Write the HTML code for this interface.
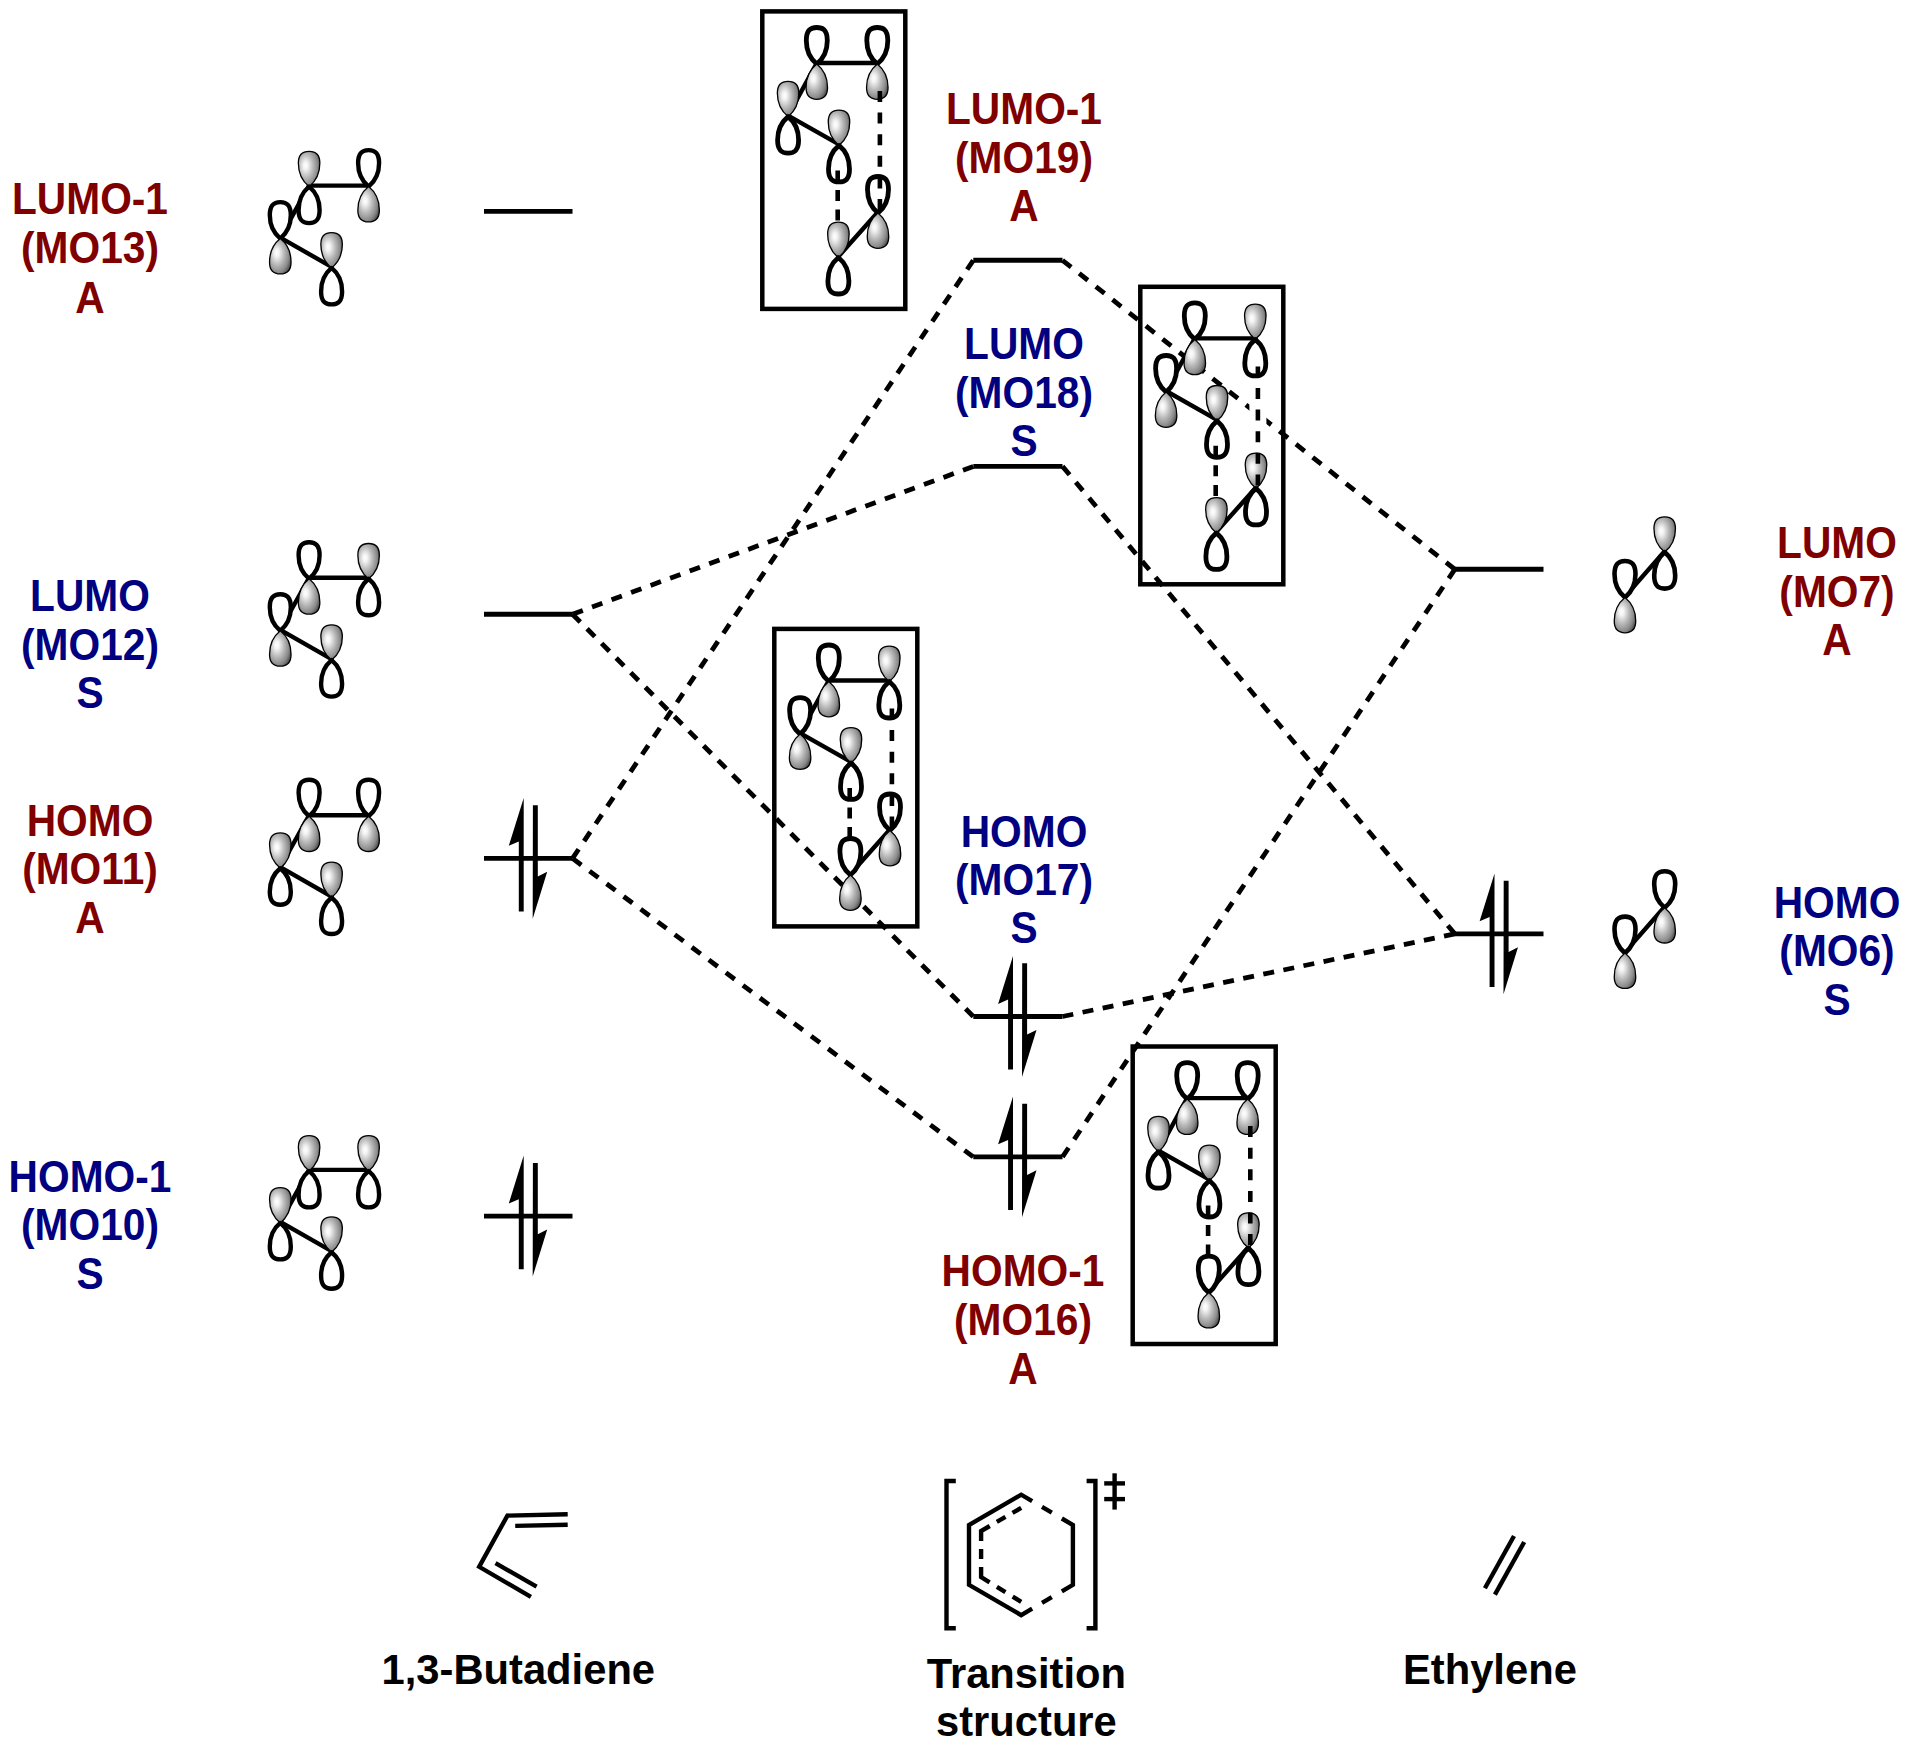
<!DOCTYPE html><html><head><meta charset="utf-8"><style>html,body{margin:0;padding:0;background:#fff;}svg{display:block;}text{font-family:"Liberation Sans",sans-serif;font-weight:bold;}</style></head><body>
<svg width="1911" height="1756" viewBox="0 0 1911 1756">
<defs><radialGradient id="gg" cx="0.38" cy="0.44" r="0.72" fx="0.33" fy="0.4"><stop offset="0" stop-color="#ffffff"/><stop offset="0.15" stop-color="#f3f3f3"/><stop offset="0.45" stop-color="#bababa"/><stop offset="0.75" stop-color="#888888"/><stop offset="1" stop-color="#383838"/></radialGradient></defs>
<rect width="1911" height="1756" fill="#fff"/>
<line x1="572.5" y1="614.2" x2="973.3" y2="466.4" stroke="#000" stroke-width="4.8" stroke-dasharray="11.00 9.81"/>
<line x1="572.5" y1="614.2" x2="973.3" y2="1016.5" stroke="#000" stroke-width="4.8" stroke-dasharray="11.00 9.63"/>
<line x1="572.5" y1="858.4" x2="973.3" y2="260.3" stroke="#000" stroke-width="4.8" stroke-dasharray="11.00 9.85"/>
<line x1="572.5" y1="858.4" x2="973.3" y2="1156.9" stroke="#000" stroke-width="4.8" stroke-dasharray="11.00 10.25"/>
<line x1="1062.5" y1="260.3" x2="1454.8" y2="569.3" stroke="#000" stroke-width="4.8" stroke-dasharray="11.00 10.23"/>
<line x1="1062.5" y1="1156.9" x2="1454.8" y2="569.3" stroke="#000" stroke-width="4.8" stroke-dasharray="11.00 10.08"/>
<line x1="1062.5" y1="466.4" x2="1454.8" y2="933.9" stroke="#000" stroke-width="4.8" stroke-dasharray="11.00 9.67"/>
<line x1="1062.5" y1="1016.5" x2="1454.8" y2="933.9" stroke="#000" stroke-width="4.8" stroke-dasharray="11.00 9.52"/>
<line x1="484" y1="211.4" x2="572.5" y2="211.4" stroke="#000" stroke-width="4.9" stroke-linecap="butt"/>
<line x1="484" y1="614.2" x2="572.5" y2="614.2" stroke="#000" stroke-width="4.9" stroke-linecap="butt"/>
<line x1="484" y1="858.4" x2="572.5" y2="858.4" stroke="#000" stroke-width="4.9" stroke-linecap="butt"/>
<line x1="484" y1="1216.1" x2="572.5" y2="1216.1" stroke="#000" stroke-width="4.9" stroke-linecap="butt"/>
<line x1="973.3" y1="260.3" x2="1062.5" y2="260.3" stroke="#000" stroke-width="4.9" stroke-linecap="butt"/>
<line x1="973.3" y1="466.4" x2="1062.5" y2="466.4" stroke="#000" stroke-width="4.9" stroke-linecap="butt"/>
<line x1="973.3" y1="1016.5" x2="1062.5" y2="1016.5" stroke="#000" stroke-width="4.9" stroke-linecap="butt"/>
<line x1="973.3" y1="1156.9" x2="1062.5" y2="1156.9" stroke="#000" stroke-width="4.9" stroke-linecap="butt"/>
<line x1="1454.8" y1="569.3" x2="1543.5" y2="569.3" stroke="#000" stroke-width="4.9" stroke-linecap="butt"/>
<line x1="1454.8" y1="933.9" x2="1543.5" y2="933.9" stroke="#000" stroke-width="4.9" stroke-linecap="butt"/>
<polygon points="518.8,911.5 518.8,841.5 508.8,845.8 523.7,797.9 523.7,911.5" fill="#000"/>
<polygon points="532.9,805.2 537.8,805.2 537.8,876.5 547.2,871.8 532.7,918.8" fill="#000"/>
<polygon points="518.8,1269.2 518.8,1199.2 508.8,1203.5 523.7,1155.6 523.7,1269.2" fill="#000"/>
<polygon points="532.9,1162.9 537.8,1162.9 537.8,1234.2 547.2,1229.5 532.7,1276.5" fill="#000"/>
<polygon points="1008.1,1069.6 1008.1,999.6 998.1,1003.9 1013,956 1013,1069.6" fill="#000"/>
<polygon points="1022.2,963.3 1027.1,963.3 1027.1,1034.6 1036.5,1029.9 1022,1076.9" fill="#000"/>
<polygon points="1008.1,1210 1008.1,1140 998.1,1144.3 1013,1096.4 1013,1210" fill="#000"/>
<polygon points="1022.2,1103.7 1027.1,1103.7 1027.1,1175 1036.5,1170.3 1022,1217.3" fill="#000"/>
<polygon points="1489.6,987 1489.6,917 1479.6,921.3 1494.5,873.4 1494.5,987" fill="#000"/>
<polygon points="1503.7,880.7 1508.6,880.7 1508.6,952 1518,947.3 1503.5,994.3" fill="#000"/>
<line x1="309.1" y1="185.6" x2="368.6" y2="185.6" stroke="#000" stroke-width="4.4" stroke-linecap="round"/>
<line x1="309.1" y1="185.6" x2="280.3" y2="237.6" stroke="#000" stroke-width="4.4" stroke-linecap="round"/>
<line x1="280.3" y1="237.6" x2="331.6" y2="266.9" stroke="#000" stroke-width="4.4" stroke-linecap="round"/>
<path d="M309.10,186.60 C316.68,180.55 319.85,171.26 319.85,163.00 C319.85,152.94 314.48,151.30 309.10,151.30 C303.73,151.30 298.35,152.94 298.35,163.00 C298.35,171.26 301.52,180.55 309.10,186.60 Z" fill="url(#gg)" stroke="#000" stroke-width="1.3"/>
<path d="M309.10,186.60 C316.50,192.63 319.60,201.88 319.60,210.10 C319.60,221.54 314.35,223.10 309.10,223.10 C303.85,223.10 298.60,221.54 298.60,210.10 C298.60,201.88 301.70,192.63 309.10,186.60 Z" fill="#fff" stroke="#000" stroke-width="4.4" stroke-linejoin="round"/>
<path d="M368.60,186.60 C376.00,180.57 379.10,171.32 379.10,163.10 C379.10,151.66 373.85,150.10 368.60,150.10 C363.35,150.10 358.10,151.66 358.10,163.10 C358.10,171.32 361.20,180.57 368.60,186.60 Z" fill="#fff" stroke="#000" stroke-width="4.4" stroke-linejoin="round"/>
<path d="M368.60,186.60 C376.18,192.65 379.35,201.94 379.35,210.20 C379.35,220.26 373.98,221.90 368.60,221.90 C363.23,221.90 357.85,220.26 357.85,210.20 C357.85,201.94 361.02,192.65 368.60,186.60 Z" fill="url(#gg)" stroke="#000" stroke-width="1.3"/>
<path d="M280.30,238.60 C287.70,232.57 290.80,223.32 290.80,215.10 C290.80,203.66 285.55,202.10 280.30,202.10 C275.05,202.10 269.80,203.66 269.80,215.10 C269.80,223.32 272.90,232.57 280.30,238.60 Z" fill="#fff" stroke="#000" stroke-width="4.4" stroke-linejoin="round"/>
<path d="M280.30,238.60 C287.88,244.65 291.05,253.94 291.05,262.20 C291.05,272.26 285.68,273.90 280.30,273.90 C274.93,273.90 269.55,272.26 269.55,262.20 C269.55,253.94 272.72,244.65 280.30,238.60 Z" fill="url(#gg)" stroke="#000" stroke-width="1.3"/>
<path d="M331.60,267.90 C339.18,261.85 342.35,252.56 342.35,244.30 C342.35,234.24 336.98,232.60 331.60,232.60 C326.23,232.60 320.85,234.24 320.85,244.30 C320.85,252.56 324.02,261.85 331.60,267.90 Z" fill="url(#gg)" stroke="#000" stroke-width="1.3"/>
<path d="M331.60,267.90 C339.00,273.93 342.10,283.17 342.10,291.40 C342.10,302.84 336.85,304.40 331.60,304.40 C326.35,304.40 321.10,302.84 321.10,291.40 C321.10,283.17 324.20,273.93 331.60,267.90 Z" fill="#fff" stroke="#000" stroke-width="4.4" stroke-linejoin="round"/>
<line x1="309.1" y1="577.8" x2="368.6" y2="577.8" stroke="#000" stroke-width="4.4" stroke-linecap="round"/>
<line x1="309.1" y1="577.8" x2="280.3" y2="629.8" stroke="#000" stroke-width="4.4" stroke-linecap="round"/>
<line x1="280.3" y1="629.8" x2="331.6" y2="659.1" stroke="#000" stroke-width="4.4" stroke-linecap="round"/>
<path d="M309.10,578.80 C316.50,572.77 319.60,563.52 319.60,555.30 C319.60,543.86 314.35,542.30 309.10,542.30 C303.85,542.30 298.60,543.86 298.60,555.30 C298.60,563.52 301.70,572.77 309.10,578.80 Z" fill="#fff" stroke="#000" stroke-width="4.4" stroke-linejoin="round"/>
<path d="M309.10,578.80 C316.68,584.85 319.85,594.14 319.85,602.40 C319.85,612.46 314.48,614.10 309.10,614.10 C303.73,614.10 298.35,612.46 298.35,602.40 C298.35,594.14 301.52,584.85 309.10,578.80 Z" fill="url(#gg)" stroke="#000" stroke-width="1.3"/>
<path d="M368.60,578.80 C376.18,572.75 379.35,563.46 379.35,555.20 C379.35,545.14 373.98,543.50 368.60,543.50 C363.23,543.50 357.85,545.14 357.85,555.20 C357.85,563.46 361.02,572.75 368.60,578.80 Z" fill="url(#gg)" stroke="#000" stroke-width="1.3"/>
<path d="M368.60,578.80 C376.00,584.83 379.10,594.07 379.10,602.30 C379.10,613.74 373.85,615.30 368.60,615.30 C363.35,615.30 358.10,613.74 358.10,602.30 C358.10,594.07 361.20,584.83 368.60,578.80 Z" fill="#fff" stroke="#000" stroke-width="4.4" stroke-linejoin="round"/>
<path d="M280.30,630.80 C287.70,624.77 290.80,615.52 290.80,607.30 C290.80,595.86 285.55,594.30 280.30,594.30 C275.05,594.30 269.80,595.86 269.80,607.30 C269.80,615.52 272.90,624.77 280.30,630.80 Z" fill="#fff" stroke="#000" stroke-width="4.4" stroke-linejoin="round"/>
<path d="M280.30,630.80 C287.88,636.85 291.05,646.14 291.05,654.40 C291.05,664.46 285.68,666.10 280.30,666.10 C274.93,666.10 269.55,664.46 269.55,654.40 C269.55,646.14 272.72,636.85 280.30,630.80 Z" fill="url(#gg)" stroke="#000" stroke-width="1.3"/>
<path d="M331.60,660.10 C339.18,654.05 342.35,644.76 342.35,636.50 C342.35,626.44 336.98,624.80 331.60,624.80 C326.23,624.80 320.85,626.44 320.85,636.50 C320.85,644.76 324.02,654.05 331.60,660.10 Z" fill="url(#gg)" stroke="#000" stroke-width="1.3"/>
<path d="M331.60,660.10 C339.00,666.13 342.10,675.37 342.10,683.60 C342.10,695.04 336.85,696.60 331.60,696.60 C326.35,696.60 321.10,695.04 321.10,683.60 C321.10,675.37 324.20,666.13 331.60,660.10 Z" fill="#fff" stroke="#000" stroke-width="4.4" stroke-linejoin="round"/>
<line x1="309.1" y1="815.2" x2="368.6" y2="815.2" stroke="#000" stroke-width="4.4" stroke-linecap="round"/>
<line x1="309.1" y1="815.2" x2="280.3" y2="867.2" stroke="#000" stroke-width="4.4" stroke-linecap="round"/>
<line x1="280.3" y1="867.2" x2="331.6" y2="896.5" stroke="#000" stroke-width="4.4" stroke-linecap="round"/>
<path d="M309.10,816.20 C316.50,810.17 319.60,800.93 319.60,792.70 C319.60,781.26 314.35,779.70 309.10,779.70 C303.85,779.70 298.60,781.26 298.60,792.70 C298.60,800.93 301.70,810.17 309.10,816.20 Z" fill="#fff" stroke="#000" stroke-width="4.4" stroke-linejoin="round"/>
<path d="M309.10,816.20 C316.68,822.25 319.85,831.54 319.85,839.80 C319.85,849.86 314.48,851.50 309.10,851.50 C303.73,851.50 298.35,849.86 298.35,839.80 C298.35,831.54 301.52,822.25 309.10,816.20 Z" fill="url(#gg)" stroke="#000" stroke-width="1.3"/>
<path d="M368.60,816.20 C376.00,810.17 379.10,800.93 379.10,792.70 C379.10,781.26 373.85,779.70 368.60,779.70 C363.35,779.70 358.10,781.26 358.10,792.70 C358.10,800.93 361.20,810.17 368.60,816.20 Z" fill="#fff" stroke="#000" stroke-width="4.4" stroke-linejoin="round"/>
<path d="M368.60,816.20 C376.18,822.25 379.35,831.54 379.35,839.80 C379.35,849.86 373.98,851.50 368.60,851.50 C363.23,851.50 357.85,849.86 357.85,839.80 C357.85,831.54 361.02,822.25 368.60,816.20 Z" fill="url(#gg)" stroke="#000" stroke-width="1.3"/>
<path d="M280.30,868.20 C287.88,862.15 291.05,852.86 291.05,844.60 C291.05,834.54 285.68,832.90 280.30,832.90 C274.93,832.90 269.55,834.54 269.55,844.60 C269.55,852.86 272.72,862.15 280.30,868.20 Z" fill="url(#gg)" stroke="#000" stroke-width="1.3"/>
<path d="M280.30,868.20 C287.70,874.23 290.80,883.48 290.80,891.70 C290.80,903.14 285.55,904.70 280.30,904.70 C275.05,904.70 269.80,903.14 269.80,891.70 C269.80,883.48 272.90,874.23 280.30,868.20 Z" fill="#fff" stroke="#000" stroke-width="4.4" stroke-linejoin="round"/>
<path d="M331.60,897.50 C339.18,891.45 342.35,882.16 342.35,873.90 C342.35,863.84 336.98,862.20 331.60,862.20 C326.23,862.20 320.85,863.84 320.85,873.90 C320.85,882.16 324.02,891.45 331.60,897.50 Z" fill="url(#gg)" stroke="#000" stroke-width="1.3"/>
<path d="M331.60,897.50 C339.00,903.53 342.10,912.77 342.10,921.00 C342.10,932.44 336.85,934.00 331.60,934.00 C326.35,934.00 321.10,932.44 321.10,921.00 C321.10,912.77 324.20,903.53 331.60,897.50 Z" fill="#fff" stroke="#000" stroke-width="4.4" stroke-linejoin="round"/>
<line x1="309.1" y1="1169.9" x2="368.6" y2="1169.9" stroke="#000" stroke-width="4.4" stroke-linecap="round"/>
<line x1="309.1" y1="1169.9" x2="280.3" y2="1221.9" stroke="#000" stroke-width="4.4" stroke-linecap="round"/>
<line x1="280.3" y1="1221.9" x2="331.6" y2="1251.2" stroke="#000" stroke-width="4.4" stroke-linecap="round"/>
<path d="M309.10,1170.90 C316.68,1164.85 319.85,1155.56 319.85,1147.30 C319.85,1137.24 314.48,1135.60 309.10,1135.60 C303.73,1135.60 298.35,1137.24 298.35,1147.30 C298.35,1155.56 301.52,1164.85 309.10,1170.90 Z" fill="url(#gg)" stroke="#000" stroke-width="1.3"/>
<path d="M309.10,1170.90 C316.50,1176.93 319.60,1186.18 319.60,1194.40 C319.60,1205.84 314.35,1207.40 309.10,1207.40 C303.85,1207.40 298.60,1205.84 298.60,1194.40 C298.60,1186.18 301.70,1176.93 309.10,1170.90 Z" fill="#fff" stroke="#000" stroke-width="4.4" stroke-linejoin="round"/>
<path d="M368.60,1170.90 C376.18,1164.85 379.35,1155.56 379.35,1147.30 C379.35,1137.24 373.98,1135.60 368.60,1135.60 C363.23,1135.60 357.85,1137.24 357.85,1147.30 C357.85,1155.56 361.02,1164.85 368.60,1170.90 Z" fill="url(#gg)" stroke="#000" stroke-width="1.3"/>
<path d="M368.60,1170.90 C376.00,1176.93 379.10,1186.18 379.10,1194.40 C379.10,1205.84 373.85,1207.40 368.60,1207.40 C363.35,1207.40 358.10,1205.84 358.10,1194.40 C358.10,1186.18 361.20,1176.93 368.60,1170.90 Z" fill="#fff" stroke="#000" stroke-width="4.4" stroke-linejoin="round"/>
<path d="M280.30,1222.90 C287.88,1216.85 291.05,1207.56 291.05,1199.30 C291.05,1189.24 285.68,1187.60 280.30,1187.60 C274.93,1187.60 269.55,1189.24 269.55,1199.30 C269.55,1207.56 272.72,1216.85 280.30,1222.90 Z" fill="url(#gg)" stroke="#000" stroke-width="1.3"/>
<path d="M280.30,1222.90 C287.70,1228.93 290.80,1238.18 290.80,1246.40 C290.80,1257.84 285.55,1259.40 280.30,1259.40 C275.05,1259.40 269.80,1257.84 269.80,1246.40 C269.80,1238.18 272.90,1228.93 280.30,1222.90 Z" fill="#fff" stroke="#000" stroke-width="4.4" stroke-linejoin="round"/>
<path d="M331.60,1252.20 C339.18,1246.15 342.35,1236.86 342.35,1228.60 C342.35,1218.54 336.98,1216.90 331.60,1216.90 C326.23,1216.90 320.85,1218.54 320.85,1228.60 C320.85,1236.86 324.02,1246.15 331.60,1252.20 Z" fill="url(#gg)" stroke="#000" stroke-width="1.3"/>
<path d="M331.60,1252.20 C339.00,1258.23 342.10,1267.48 342.10,1275.70 C342.10,1287.14 336.85,1288.70 331.60,1288.70 C326.35,1288.70 321.10,1287.14 321.10,1275.70 C321.10,1267.48 324.20,1258.23 331.60,1252.20 Z" fill="#fff" stroke="#000" stroke-width="4.4" stroke-linejoin="round"/>
<line x1="1664.7" y1="551.1" x2="1625" y2="596.5" stroke="#000" stroke-width="4.4" stroke-linecap="round"/>
<path d="M1664.70,552.10 C1672.28,546.05 1675.45,536.76 1675.45,528.50 C1675.45,518.44 1670.08,516.80 1664.70,516.80 C1659.33,516.80 1653.95,518.44 1653.95,528.50 C1653.95,536.76 1657.12,546.05 1664.70,552.10 Z" fill="url(#gg)" stroke="#000" stroke-width="1.3"/>
<path d="M1664.70,552.10 C1672.10,558.13 1675.20,567.38 1675.20,575.60 C1675.20,587.04 1669.95,588.60 1664.70,588.60 C1659.45,588.60 1654.20,587.04 1654.20,575.60 C1654.20,567.38 1657.30,558.13 1664.70,552.10 Z" fill="#fff" stroke="#000" stroke-width="4.6" stroke-linejoin="round"/>
<path d="M1625.00,597.50 C1632.40,591.47 1635.50,582.23 1635.50,574.00 C1635.50,562.56 1630.25,561.00 1625.00,561.00 C1619.75,561.00 1614.50,562.56 1614.50,574.00 C1614.50,582.23 1617.60,591.47 1625.00,597.50 Z" fill="#fff" stroke="#000" stroke-width="4.6" stroke-linejoin="round"/>
<path d="M1625.00,597.50 C1632.58,603.55 1635.75,612.84 1635.75,621.10 C1635.75,631.16 1630.38,632.80 1625.00,632.80 C1619.62,632.80 1614.25,631.16 1614.25,621.10 C1614.25,612.84 1617.42,603.55 1625.00,597.50 Z" fill="url(#gg)" stroke="#000" stroke-width="1.3"/>
<line x1="1664.7" y1="906.7" x2="1625" y2="952.1" stroke="#000" stroke-width="4.4" stroke-linecap="round"/>
<path d="M1664.70,907.70 C1672.10,901.67 1675.20,892.43 1675.20,884.20 C1675.20,872.76 1669.95,871.20 1664.70,871.20 C1659.45,871.20 1654.20,872.76 1654.20,884.20 C1654.20,892.43 1657.30,901.67 1664.70,907.70 Z" fill="#fff" stroke="#000" stroke-width="4.6" stroke-linejoin="round"/>
<path d="M1664.70,907.70 C1672.28,913.75 1675.45,923.04 1675.45,931.30 C1675.45,941.36 1670.08,943.00 1664.70,943.00 C1659.33,943.00 1653.95,941.36 1653.95,931.30 C1653.95,923.04 1657.12,913.75 1664.70,907.70 Z" fill="url(#gg)" stroke="#000" stroke-width="1.3"/>
<path d="M1625.00,953.10 C1632.40,947.07 1635.50,937.83 1635.50,929.60 C1635.50,918.16 1630.25,916.60 1625.00,916.60 C1619.75,916.60 1614.50,918.16 1614.50,929.60 C1614.50,937.83 1617.60,947.07 1625.00,953.10 Z" fill="#fff" stroke="#000" stroke-width="4.6" stroke-linejoin="round"/>
<path d="M1625.00,953.10 C1632.58,959.15 1635.75,968.44 1635.75,976.70 C1635.75,986.76 1630.38,988.40 1625.00,988.40 C1619.62,988.40 1614.25,986.76 1614.25,976.70 C1614.25,968.44 1617.42,959.15 1625.00,953.10 Z" fill="url(#gg)" stroke="#000" stroke-width="1.3"/>
<rect x="762.3" y="11.4" width="143" height="297.5" fill="none" stroke="#000" stroke-width="4.5"/>
<line x1="879.9" y1="91.0" x2="879.9" y2="210.0" stroke="#fff" stroke-width="17"/>
<line x1="837.7" y1="170.4" x2="837.7" y2="220.5" stroke="#fff" stroke-width="17"/>
<line x1="816.8" y1="63" x2="877.3" y2="63" stroke="#000" stroke-width="4.4" stroke-linecap="round"/>
<line x1="816.8" y1="63" x2="788.1" y2="115.6" stroke="#000" stroke-width="4.4" stroke-linecap="round"/>
<line x1="788.1" y1="115.6" x2="839" y2="144.4" stroke="#000" stroke-width="4.4" stroke-linecap="round"/>
<line x1="878" y1="212" x2="838.4" y2="256.5" stroke="#000" stroke-width="4.4" stroke-linecap="round"/>
<path d="M816.80,64.00 C824.20,57.97 827.30,48.73 827.30,40.50 C827.30,29.06 822.05,27.50 816.80,27.50 C811.55,27.50 806.30,29.06 806.30,40.50 C806.30,48.73 809.40,57.97 816.80,64.00 Z" fill="#fff" stroke="#000" stroke-width="4.8" stroke-linejoin="round"/>
<path d="M816.80,64.00 C824.38,70.05 827.55,79.34 827.55,87.60 C827.55,97.66 822.17,99.30 816.80,99.30 C811.42,99.30 806.05,97.66 806.05,87.60 C806.05,79.34 809.22,70.05 816.80,64.00 Z" fill="url(#gg)" stroke="#000" stroke-width="1.3"/>
<path d="M877.30,64.00 C884.70,57.97 887.80,48.73 887.80,40.50 C887.80,29.06 882.55,27.50 877.30,27.50 C872.05,27.50 866.80,29.06 866.80,40.50 C866.80,48.73 869.90,57.97 877.30,64.00 Z" fill="#fff" stroke="#000" stroke-width="4.8" stroke-linejoin="round"/>
<path d="M877.30,64.00 C884.88,70.05 888.05,79.34 888.05,87.60 C888.05,97.66 882.67,99.30 877.30,99.30 C871.92,99.30 866.55,97.66 866.55,87.60 C866.55,79.34 869.72,70.05 877.30,64.00 Z" fill="url(#gg)" stroke="#000" stroke-width="1.3"/>
<path d="M788.10,116.60 C795.68,110.55 798.85,101.26 798.85,93.00 C798.85,82.94 793.47,81.30 788.10,81.30 C782.72,81.30 777.35,82.94 777.35,93.00 C777.35,101.26 780.52,110.55 788.10,116.60 Z" fill="url(#gg)" stroke="#000" stroke-width="1.3"/>
<path d="M788.10,116.60 C795.50,122.63 798.60,131.88 798.60,140.10 C798.60,151.54 793.35,153.10 788.10,153.10 C782.85,153.10 777.60,151.54 777.60,140.10 C777.60,131.88 780.70,122.63 788.10,116.60 Z" fill="#fff" stroke="#000" stroke-width="4.8" stroke-linejoin="round"/>
<path d="M839.00,145.40 C846.58,139.35 849.75,130.06 849.75,121.80 C849.75,111.74 844.38,110.10 839.00,110.10 C833.62,110.10 828.25,111.74 828.25,121.80 C828.25,130.06 831.42,139.35 839.00,145.40 Z" fill="url(#gg)" stroke="#000" stroke-width="1.3"/>
<path d="M839.00,145.40 C846.40,151.43 849.50,160.68 849.50,168.90 C849.50,180.34 844.25,181.90 839.00,181.90 C833.75,181.90 828.50,180.34 828.50,168.90 C828.50,160.68 831.60,151.43 839.00,145.40 Z" fill="#fff" stroke="#000" stroke-width="4.8" stroke-linejoin="round"/>
<path d="M878.00,213.00 C885.40,206.97 888.50,197.72 888.50,189.50 C888.50,178.06 883.25,176.50 878.00,176.50 C872.75,176.50 867.50,178.06 867.50,189.50 C867.50,197.72 870.60,206.97 878.00,213.00 Z" fill="#fff" stroke="#000" stroke-width="4.8" stroke-linejoin="round"/>
<path d="M878.00,213.00 C885.58,219.05 888.75,228.34 888.75,236.60 C888.75,246.66 883.38,248.30 878.00,248.30 C872.62,248.30 867.25,246.66 867.25,236.60 C867.25,228.34 870.42,219.05 878.00,213.00 Z" fill="url(#gg)" stroke="#000" stroke-width="1.3"/>
<path d="M838.40,257.50 C845.98,251.45 849.15,242.16 849.15,233.90 C849.15,223.84 843.77,222.20 838.40,222.20 C833.02,222.20 827.65,223.84 827.65,233.90 C827.65,242.16 830.82,251.45 838.40,257.50 Z" fill="url(#gg)" stroke="#000" stroke-width="1.3"/>
<path d="M838.40,257.50 C845.80,263.53 848.90,272.77 848.90,281.00 C848.90,292.44 843.65,294.00 838.40,294.00 C833.15,294.00 827.90,292.44 827.90,281.00 C827.90,272.77 831.00,263.53 838.40,257.50 Z" fill="#fff" stroke="#000" stroke-width="4.8" stroke-linejoin="round"/>
<line x1="879.9" y1="91" x2="879.9" y2="210" stroke="#000" stroke-width="4.6" stroke-dasharray="11.00 10.60"/>
<line x1="837.7" y1="170.4" x2="837.7" y2="220.5" stroke="#000" stroke-width="4.6" stroke-dasharray="11.00 8.55"/>
<rect x="1140.3" y="286.8" width="143" height="297.5" fill="none" stroke="#000" stroke-width="4.5"/>
<line x1="1257.9" y1="366.4" x2="1257.9" y2="485.4" stroke="#fff" stroke-width="17"/>
<line x1="1215.7" y1="445.8" x2="1215.7" y2="495.9" stroke="#fff" stroke-width="17"/>
<line x1="1194.8" y1="338.4" x2="1255.3" y2="338.4" stroke="#000" stroke-width="4.4" stroke-linecap="round"/>
<line x1="1194.8" y1="338.4" x2="1166.1" y2="391" stroke="#000" stroke-width="4.4" stroke-linecap="round"/>
<line x1="1166.1" y1="391" x2="1217" y2="419.8" stroke="#000" stroke-width="4.4" stroke-linecap="round"/>
<line x1="1256" y1="487.4" x2="1216.4" y2="531.9" stroke="#000" stroke-width="4.4" stroke-linecap="round"/>
<path d="M1194.80,339.40 C1202.20,333.37 1205.30,324.13 1205.30,315.90 C1205.30,304.46 1200.05,302.90 1194.80,302.90 C1189.55,302.90 1184.30,304.46 1184.30,315.90 C1184.30,324.13 1187.40,333.37 1194.80,339.40 Z" fill="#fff" stroke="#000" stroke-width="4.8" stroke-linejoin="round"/>
<path d="M1194.80,339.40 C1202.38,345.45 1205.55,354.74 1205.55,363.00 C1205.55,373.06 1200.17,374.70 1194.80,374.70 C1189.42,374.70 1184.05,373.06 1184.05,363.00 C1184.05,354.74 1187.22,345.45 1194.80,339.40 Z" fill="url(#gg)" stroke="#000" stroke-width="1.3"/>
<path d="M1255.30,339.40 C1262.88,333.35 1266.05,324.06 1266.05,315.80 C1266.05,305.74 1260.67,304.10 1255.30,304.10 C1249.92,304.10 1244.55,305.74 1244.55,315.80 C1244.55,324.06 1247.72,333.35 1255.30,339.40 Z" fill="url(#gg)" stroke="#000" stroke-width="1.3"/>
<path d="M1255.30,339.40 C1262.70,345.43 1265.80,354.68 1265.80,362.90 C1265.80,374.34 1260.55,375.90 1255.30,375.90 C1250.05,375.90 1244.80,374.34 1244.80,362.90 C1244.80,354.68 1247.90,345.43 1255.30,339.40 Z" fill="#fff" stroke="#000" stroke-width="4.8" stroke-linejoin="round"/>
<path d="M1166.10,392.00 C1173.50,385.97 1176.60,376.73 1176.60,368.50 C1176.60,357.06 1171.35,355.50 1166.10,355.50 C1160.85,355.50 1155.60,357.06 1155.60,368.50 C1155.60,376.73 1158.70,385.97 1166.10,392.00 Z" fill="#fff" stroke="#000" stroke-width="4.8" stroke-linejoin="round"/>
<path d="M1166.10,392.00 C1173.68,398.05 1176.85,407.34 1176.85,415.60 C1176.85,425.66 1171.47,427.30 1166.10,427.30 C1160.72,427.30 1155.35,425.66 1155.35,415.60 C1155.35,407.34 1158.52,398.05 1166.10,392.00 Z" fill="url(#gg)" stroke="#000" stroke-width="1.3"/>
<path d="M1217.00,420.80 C1224.58,414.75 1227.75,405.46 1227.75,397.20 C1227.75,387.14 1222.38,385.50 1217.00,385.50 C1211.62,385.50 1206.25,387.14 1206.25,397.20 C1206.25,405.46 1209.42,414.75 1217.00,420.80 Z" fill="url(#gg)" stroke="#000" stroke-width="1.3"/>
<path d="M1217.00,420.80 C1224.40,426.83 1227.50,436.07 1227.50,444.30 C1227.50,455.74 1222.25,457.30 1217.00,457.30 C1211.75,457.30 1206.50,455.74 1206.50,444.30 C1206.50,436.07 1209.60,426.83 1217.00,420.80 Z" fill="#fff" stroke="#000" stroke-width="4.8" stroke-linejoin="round"/>
<path d="M1256.00,488.40 C1263.58,482.35 1266.75,473.06 1266.75,464.80 C1266.75,454.74 1261.38,453.10 1256.00,453.10 C1250.62,453.10 1245.25,454.74 1245.25,464.80 C1245.25,473.06 1248.42,482.35 1256.00,488.40 Z" fill="url(#gg)" stroke="#000" stroke-width="1.3"/>
<path d="M1256.00,488.40 C1263.40,494.43 1266.50,503.67 1266.50,511.90 C1266.50,523.34 1261.25,524.90 1256.00,524.90 C1250.75,524.90 1245.50,523.34 1245.50,511.90 C1245.50,503.67 1248.60,494.43 1256.00,488.40 Z" fill="#fff" stroke="#000" stroke-width="4.8" stroke-linejoin="round"/>
<path d="M1216.40,532.90 C1223.98,526.85 1227.15,517.56 1227.15,509.30 C1227.15,499.24 1221.77,497.60 1216.40,497.60 C1211.02,497.60 1205.65,499.24 1205.65,509.30 C1205.65,517.56 1208.82,526.85 1216.40,532.90 Z" fill="url(#gg)" stroke="#000" stroke-width="1.3"/>
<path d="M1216.40,532.90 C1223.80,538.93 1226.90,548.17 1226.90,556.40 C1226.90,567.84 1221.65,569.40 1216.40,569.40 C1211.15,569.40 1205.90,567.84 1205.90,556.40 C1205.90,548.17 1209.00,538.93 1216.40,532.90 Z" fill="#fff" stroke="#000" stroke-width="4.8" stroke-linejoin="round"/>
<line x1="1257.9" y1="366.4" x2="1257.9" y2="485.4" stroke="#000" stroke-width="4.6" stroke-dasharray="11.00 10.60"/>
<line x1="1215.7" y1="445.8" x2="1215.7" y2="495.9" stroke="#000" stroke-width="4.6" stroke-dasharray="11.00 8.55"/>
<rect x="774.3" y="628.9" width="143" height="297.5" fill="none" stroke="#000" stroke-width="4.5"/>
<line x1="891.9" y1="708.5" x2="891.9" y2="827.5" stroke="#fff" stroke-width="17"/>
<line x1="849.7" y1="787.9" x2="849.7" y2="838.0" stroke="#fff" stroke-width="17"/>
<line x1="828.8" y1="680.5" x2="889.3" y2="680.5" stroke="#000" stroke-width="4.4" stroke-linecap="round"/>
<line x1="828.8" y1="680.5" x2="800.1" y2="733.1" stroke="#000" stroke-width="4.4" stroke-linecap="round"/>
<line x1="800.1" y1="733.1" x2="851" y2="761.9" stroke="#000" stroke-width="4.4" stroke-linecap="round"/>
<line x1="890" y1="829.5" x2="850.4" y2="874" stroke="#000" stroke-width="4.4" stroke-linecap="round"/>
<path d="M828.80,681.50 C836.20,675.47 839.30,666.23 839.30,658.00 C839.30,646.56 834.05,645.00 828.80,645.00 C823.55,645.00 818.30,646.56 818.30,658.00 C818.30,666.23 821.40,675.47 828.80,681.50 Z" fill="#fff" stroke="#000" stroke-width="4.8" stroke-linejoin="round"/>
<path d="M828.80,681.50 C836.38,687.55 839.55,696.84 839.55,705.10 C839.55,715.16 834.17,716.80 828.80,716.80 C823.42,716.80 818.05,715.16 818.05,705.10 C818.05,696.84 821.22,687.55 828.80,681.50 Z" fill="url(#gg)" stroke="#000" stroke-width="1.3"/>
<path d="M889.30,681.50 C896.88,675.45 900.05,666.16 900.05,657.90 C900.05,647.84 894.67,646.20 889.30,646.20 C883.92,646.20 878.55,647.84 878.55,657.90 C878.55,666.16 881.72,675.45 889.30,681.50 Z" fill="url(#gg)" stroke="#000" stroke-width="1.3"/>
<path d="M889.30,681.50 C896.70,687.53 899.80,696.77 899.80,705.00 C899.80,716.44 894.55,718.00 889.30,718.00 C884.05,718.00 878.80,716.44 878.80,705.00 C878.80,696.77 881.90,687.53 889.30,681.50 Z" fill="#fff" stroke="#000" stroke-width="4.8" stroke-linejoin="round"/>
<path d="M800.10,734.10 C807.50,728.07 810.60,718.83 810.60,710.60 C810.60,699.16 805.35,697.60 800.10,697.60 C794.85,697.60 789.60,699.16 789.60,710.60 C789.60,718.83 792.70,728.07 800.10,734.10 Z" fill="#fff" stroke="#000" stroke-width="4.8" stroke-linejoin="round"/>
<path d="M800.10,734.10 C807.68,740.15 810.85,749.44 810.85,757.70 C810.85,767.76 805.47,769.40 800.10,769.40 C794.72,769.40 789.35,767.76 789.35,757.70 C789.35,749.44 792.52,740.15 800.10,734.10 Z" fill="url(#gg)" stroke="#000" stroke-width="1.3"/>
<path d="M851.00,762.90 C858.58,756.85 861.75,747.56 861.75,739.30 C861.75,729.24 856.38,727.60 851.00,727.60 C845.62,727.60 840.25,729.24 840.25,739.30 C840.25,747.56 843.42,756.85 851.00,762.90 Z" fill="url(#gg)" stroke="#000" stroke-width="1.3"/>
<path d="M851.00,762.90 C858.40,768.93 861.50,778.17 861.50,786.40 C861.50,797.84 856.25,799.40 851.00,799.40 C845.75,799.40 840.50,797.84 840.50,786.40 C840.50,778.17 843.60,768.93 851.00,762.90 Z" fill="#fff" stroke="#000" stroke-width="4.8" stroke-linejoin="round"/>
<path d="M890.00,830.50 C897.40,824.47 900.50,815.23 900.50,807.00 C900.50,795.56 895.25,794.00 890.00,794.00 C884.75,794.00 879.50,795.56 879.50,807.00 C879.50,815.23 882.60,824.47 890.00,830.50 Z" fill="#fff" stroke="#000" stroke-width="4.8" stroke-linejoin="round"/>
<path d="M890.00,830.50 C897.58,836.55 900.75,845.84 900.75,854.10 C900.75,864.16 895.38,865.80 890.00,865.80 C884.62,865.80 879.25,864.16 879.25,854.10 C879.25,845.84 882.42,836.55 890.00,830.50 Z" fill="url(#gg)" stroke="#000" stroke-width="1.3"/>
<path d="M850.40,875.00 C857.80,868.97 860.90,859.73 860.90,851.50 C860.90,840.06 855.65,838.50 850.40,838.50 C845.15,838.50 839.90,840.06 839.90,851.50 C839.90,859.73 843.00,868.97 850.40,875.00 Z" fill="#fff" stroke="#000" stroke-width="4.8" stroke-linejoin="round"/>
<path d="M850.40,875.00 C857.98,881.05 861.15,890.34 861.15,898.60 C861.15,908.66 855.77,910.30 850.40,910.30 C845.02,910.30 839.65,908.66 839.65,898.60 C839.65,890.34 842.82,881.05 850.40,875.00 Z" fill="url(#gg)" stroke="#000" stroke-width="1.3"/>
<line x1="891.9" y1="708.5" x2="891.9" y2="827.5" stroke="#000" stroke-width="4.6" stroke-dasharray="11.00 10.60"/>
<line x1="849.7" y1="787.9" x2="849.7" y2="838" stroke="#000" stroke-width="4.6" stroke-dasharray="11.00 8.55"/>
<rect x="1132.7" y="1046.5" width="143" height="297.5" fill="none" stroke="#000" stroke-width="4.5"/>
<line x1="1250.3" y1="1126.1" x2="1250.3" y2="1245.1" stroke="#fff" stroke-width="17"/>
<line x1="1208.1" y1="1205.5" x2="1208.1" y2="1255.6" stroke="#fff" stroke-width="17"/>
<line x1="1187.2" y1="1098.1" x2="1247.7" y2="1098.1" stroke="#000" stroke-width="4.4" stroke-linecap="round"/>
<line x1="1187.2" y1="1098.1" x2="1158.5" y2="1150.7" stroke="#000" stroke-width="4.4" stroke-linecap="round"/>
<line x1="1158.5" y1="1150.7" x2="1209.4" y2="1179.5" stroke="#000" stroke-width="4.4" stroke-linecap="round"/>
<line x1="1248.4" y1="1247.1" x2="1208.8" y2="1291.6" stroke="#000" stroke-width="4.4" stroke-linecap="round"/>
<path d="M1187.20,1099.10 C1194.60,1093.07 1197.70,1083.82 1197.70,1075.60 C1197.70,1064.16 1192.45,1062.60 1187.20,1062.60 C1181.95,1062.60 1176.70,1064.16 1176.70,1075.60 C1176.70,1083.82 1179.80,1093.07 1187.20,1099.10 Z" fill="#fff" stroke="#000" stroke-width="4.8" stroke-linejoin="round"/>
<path d="M1187.20,1099.10 C1194.78,1105.15 1197.95,1114.44 1197.95,1122.70 C1197.95,1132.76 1192.58,1134.40 1187.20,1134.40 C1181.83,1134.40 1176.45,1132.76 1176.45,1122.70 C1176.45,1114.44 1179.62,1105.15 1187.20,1099.10 Z" fill="url(#gg)" stroke="#000" stroke-width="1.3"/>
<path d="M1247.70,1099.10 C1255.10,1093.07 1258.20,1083.82 1258.20,1075.60 C1258.20,1064.16 1252.95,1062.60 1247.70,1062.60 C1242.45,1062.60 1237.20,1064.16 1237.20,1075.60 C1237.20,1083.82 1240.30,1093.07 1247.70,1099.10 Z" fill="#fff" stroke="#000" stroke-width="4.8" stroke-linejoin="round"/>
<path d="M1247.70,1099.10 C1255.28,1105.15 1258.45,1114.44 1258.45,1122.70 C1258.45,1132.76 1253.08,1134.40 1247.70,1134.40 C1242.33,1134.40 1236.95,1132.76 1236.95,1122.70 C1236.95,1114.44 1240.12,1105.15 1247.70,1099.10 Z" fill="url(#gg)" stroke="#000" stroke-width="1.3"/>
<path d="M1158.50,1151.70 C1166.08,1145.65 1169.25,1136.36 1169.25,1128.10 C1169.25,1118.04 1163.88,1116.40 1158.50,1116.40 C1153.12,1116.40 1147.75,1118.04 1147.75,1128.10 C1147.75,1136.36 1150.92,1145.65 1158.50,1151.70 Z" fill="url(#gg)" stroke="#000" stroke-width="1.3"/>
<path d="M1158.50,1151.70 C1165.90,1157.73 1169.00,1166.98 1169.00,1175.20 C1169.00,1186.64 1163.75,1188.20 1158.50,1188.20 C1153.25,1188.20 1148.00,1186.64 1148.00,1175.20 C1148.00,1166.98 1151.10,1157.73 1158.50,1151.70 Z" fill="#fff" stroke="#000" stroke-width="4.8" stroke-linejoin="round"/>
<path d="M1209.40,1180.50 C1216.98,1174.45 1220.15,1165.16 1220.15,1156.90 C1220.15,1146.84 1214.78,1145.20 1209.40,1145.20 C1204.03,1145.20 1198.65,1146.84 1198.65,1156.90 C1198.65,1165.16 1201.82,1174.45 1209.40,1180.50 Z" fill="url(#gg)" stroke="#000" stroke-width="1.3"/>
<path d="M1209.40,1180.50 C1216.80,1186.53 1219.90,1195.78 1219.90,1204.00 C1219.90,1215.44 1214.65,1217.00 1209.40,1217.00 C1204.15,1217.00 1198.90,1215.44 1198.90,1204.00 C1198.90,1195.78 1202.00,1186.53 1209.40,1180.50 Z" fill="#fff" stroke="#000" stroke-width="4.8" stroke-linejoin="round"/>
<path d="M1248.40,1248.10 C1255.98,1242.05 1259.15,1232.76 1259.15,1224.50 C1259.15,1214.44 1253.78,1212.80 1248.40,1212.80 C1243.03,1212.80 1237.65,1214.44 1237.65,1224.50 C1237.65,1232.76 1240.82,1242.05 1248.40,1248.10 Z" fill="url(#gg)" stroke="#000" stroke-width="1.3"/>
<path d="M1248.40,1248.10 C1255.80,1254.13 1258.90,1263.38 1258.90,1271.60 C1258.90,1283.04 1253.65,1284.60 1248.40,1284.60 C1243.15,1284.60 1237.90,1283.04 1237.90,1271.60 C1237.90,1263.38 1241.00,1254.13 1248.40,1248.10 Z" fill="#fff" stroke="#000" stroke-width="4.8" stroke-linejoin="round"/>
<path d="M1208.80,1292.60 C1216.20,1286.57 1219.30,1277.32 1219.30,1269.10 C1219.30,1257.66 1214.05,1256.10 1208.80,1256.10 C1203.55,1256.10 1198.30,1257.66 1198.30,1269.10 C1198.30,1277.32 1201.40,1286.57 1208.80,1292.60 Z" fill="#fff" stroke="#000" stroke-width="4.8" stroke-linejoin="round"/>
<path d="M1208.80,1292.60 C1216.38,1298.65 1219.55,1307.94 1219.55,1316.20 C1219.55,1326.26 1214.17,1327.90 1208.80,1327.90 C1203.42,1327.90 1198.05,1326.26 1198.05,1316.20 C1198.05,1307.94 1201.22,1298.65 1208.80,1292.60 Z" fill="url(#gg)" stroke="#000" stroke-width="1.3"/>
<line x1="1250.3" y1="1126.1" x2="1250.3" y2="1245.1" stroke="#000" stroke-width="4.6" stroke-dasharray="11.00 10.60"/>
<line x1="1208.1" y1="1205.5" x2="1208.1" y2="1255.6" stroke="#000" stroke-width="4.6" stroke-dasharray="11.00 8.55"/>
<text transform="translate(90,214.3) scale(0.925,1)" fill="#800000" font-size="44.0" text-anchor="middle">LUMO-1</text>
<text transform="translate(90,263.4) scale(0.925,1)" fill="#800000" font-size="44.0" text-anchor="middle">(MO13)</text>
<text transform="translate(90,312.5) scale(0.925,1)" fill="#800000" font-size="44.0" text-anchor="middle">A</text>
<text transform="translate(90,611) scale(0.925,1)" fill="#000080" font-size="44.0" text-anchor="middle">LUMO</text>
<text transform="translate(90,659.7) scale(0.925,1)" fill="#000080" font-size="44.0" text-anchor="middle">(MO12)</text>
<text transform="translate(90,707.8) scale(0.925,1)" fill="#000080" font-size="44.0" text-anchor="middle">S</text>
<text transform="translate(90,835.5) scale(0.925,1)" fill="#800000" font-size="44.0" text-anchor="middle">HOMO</text>
<text transform="translate(90,884.2) scale(0.925,1)" fill="#800000" font-size="44.0" text-anchor="middle">(MO11)</text>
<text transform="translate(90,932.9) scale(0.925,1)" fill="#800000" font-size="44.0" text-anchor="middle">A</text>
<text transform="translate(90,1192.3) scale(0.925,1)" fill="#000080" font-size="44.0" text-anchor="middle">HOMO-1</text>
<text transform="translate(90,1240.3) scale(0.925,1)" fill="#000080" font-size="44.0" text-anchor="middle">(MO10)</text>
<text transform="translate(90,1289) scale(0.925,1)" fill="#000080" font-size="44.0" text-anchor="middle">S</text>
<text transform="translate(1024,123.8) scale(0.925,1)" fill="#800000" font-size="44.0" text-anchor="middle">LUMO-1</text>
<text transform="translate(1024,173) scale(0.925,1)" fill="#800000" font-size="44.0" text-anchor="middle">(MO19)</text>
<text transform="translate(1024,221.2) scale(0.925,1)" fill="#800000" font-size="44.0" text-anchor="middle">A</text>
<text transform="translate(1024,358.6) scale(0.925,1)" fill="#000080" font-size="44.0" text-anchor="middle">LUMO</text>
<text transform="translate(1024,407.8) scale(0.925,1)" fill="#000080" font-size="44.0" text-anchor="middle">(MO18)</text>
<text transform="translate(1024,455.9) scale(0.925,1)" fill="#000080" font-size="44.0" text-anchor="middle">S</text>
<text transform="translate(1024,846.6) scale(0.925,1)" fill="#000080" font-size="44.0" text-anchor="middle">HOMO</text>
<text transform="translate(1024,895.1) scale(0.925,1)" fill="#000080" font-size="44.0" text-anchor="middle">(MO17)</text>
<text transform="translate(1024,943.3) scale(0.925,1)" fill="#000080" font-size="44.0" text-anchor="middle">S</text>
<text transform="translate(1023,1286) scale(0.925,1)" fill="#800000" font-size="44.0" text-anchor="middle">HOMO-1</text>
<text transform="translate(1023,1335.2) scale(0.925,1)" fill="#800000" font-size="44.0" text-anchor="middle">(MO16)</text>
<text transform="translate(1023,1383.5) scale(0.925,1)" fill="#800000" font-size="44.0" text-anchor="middle">A</text>
<text transform="translate(1837,558.3) scale(0.925,1)" fill="#800000" font-size="44.0" text-anchor="middle">LUMO</text>
<text transform="translate(1837,606.5) scale(0.925,1)" fill="#800000" font-size="44.0" text-anchor="middle">(MO7)</text>
<text transform="translate(1837,655.4) scale(0.925,1)" fill="#800000" font-size="44.0" text-anchor="middle">A</text>
<text transform="translate(1837,917.7) scale(0.925,1)" fill="#000080" font-size="44.0" text-anchor="middle">HOMO</text>
<text transform="translate(1837,966.2) scale(0.925,1)" fill="#000080" font-size="44.0" text-anchor="middle">(MO6)</text>
<text transform="translate(1837,1014.8) scale(0.925,1)" fill="#000080" font-size="44.0" text-anchor="middle">S</text>
<text transform="translate(518.3,1684.3) scale(0.975,1)" fill="#000" font-size="42.8" text-anchor="middle">1,3-Butadiene</text>
<text transform="translate(1026.4,1687.5) scale(0.975,1)" fill="#000" font-size="42.8" text-anchor="middle">Transition</text>
<text transform="translate(1026.4,1736) scale(0.975,1)" fill="#000" font-size="42.8" text-anchor="middle">structure</text>
<text transform="translate(1489.9,1684) scale(0.975,1)" fill="#000" font-size="42.8" text-anchor="middle">Ethylene</text>
<polyline points="567.7,1514.3 507.4,1515.6 479.2,1566.8 530.9,1596.8" fill="none" stroke="#000" stroke-width="4.4" stroke-linejoin="miter"/>
<line x1="515.2" y1="1525.9" x2="567.7" y2="1524.8" stroke="#000" stroke-width="4.4" stroke-linecap="butt"/>
<line x1="495.5" y1="1563.2" x2="536.6" y2="1586.6" stroke="#000" stroke-width="4.4" stroke-linecap="butt"/>
<polyline points="1032.16,1501.12 1021.2,1494.7 969,1525 969,1584.8 1021.2,1615.1 1032.16,1608.68" fill="none" stroke="#000" stroke-width="4.4" stroke-linejoin="miter"/>
<polyline points="1061.84,1518.52 1072.9,1525 1072.9,1584.8 1061.84,1591.28" fill="none" stroke="#000" stroke-width="4.4" stroke-linejoin="miter"/>
<line x1="1042" y1="1506.9" x2="1051.8" y2="1512.7" stroke="#000" stroke-width="4.4" stroke-linecap="butt"/>
<line x1="1042" y1="1602.9" x2="1051.8" y2="1597.1" stroke="#000" stroke-width="4.4" stroke-linecap="butt"/>
<polyline points="1021.2,1507.9 981.1,1531.0 981.1,1577.1 1021.2,1601.9" fill="none" stroke="#000" stroke-width="4.4" stroke-linejoin="miter" stroke-dasharray="10.00 8.14 10.00 8.14 20.00 8.05 10.00 8.05 20.00 8.57 10.00 8.57 10.00 200.00"/>
<polyline points="955.8,1481 946.5,1481 946.5,1628.2 955.8,1628.2" fill="none" stroke="#000" stroke-width="4.4"/>
<polyline points="1086.6,1481 1095.4,1481 1095.4,1628.2 1086.6,1628.2" fill="none" stroke="#000" stroke-width="4.4"/>
<line x1="1114.6" y1="1473.3" x2="1114.6" y2="1509.6" stroke="#000" stroke-width="4.4" stroke-linecap="butt"/>
<line x1="1104.2" y1="1483.4" x2="1125" y2="1483.4" stroke="#000" stroke-width="4.4" stroke-linecap="butt"/>
<line x1="1104.2" y1="1499.1" x2="1125" y2="1499.1" stroke="#000" stroke-width="4.4" stroke-linecap="butt"/>
<line x1="1484.9" y1="1588.3" x2="1514" y2="1536" stroke="#000" stroke-width="4.4" stroke-linecap="butt"/>
<line x1="1494.9" y1="1594.6" x2="1524.2" y2="1542" stroke="#000" stroke-width="4.4" stroke-linecap="butt"/>
</svg></body></html>
